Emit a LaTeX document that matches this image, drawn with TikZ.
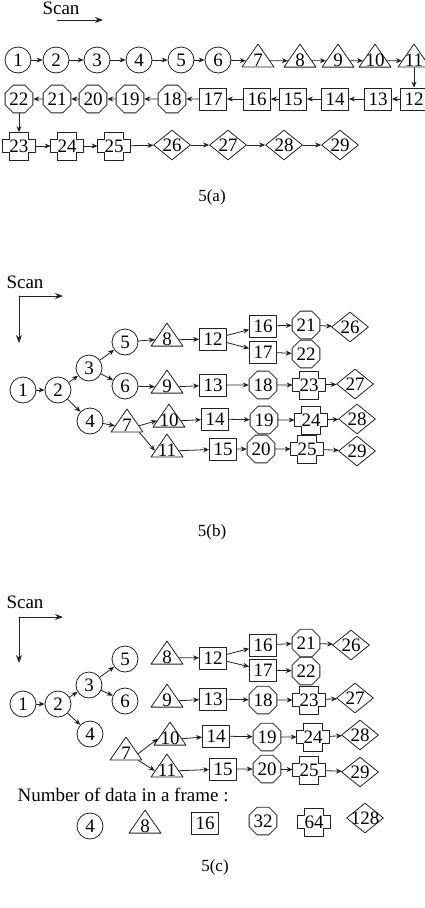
\documentclass[tikz,border=0pt]{standalone}
\usepackage{fontspec}
\setmainfont{Liberation Serif}
\usetikzlibrary{arrows.meta,shapes.geometric}
\newcommand{\datano}[1]{\makebox[0pt]{#1}}
\newcommand{\tridata}[1]{\makebox[0pt]{\raisebox{-3pt}[\height][\depth]{#1}}}
\makeatletter
\pgfdeclareshape{plusbox}{%
  \inheritsavedanchors[from=rectangle]%
  \inheritanchorborder[from=rectangle]%
  \inheritanchor[from=rectangle]{center}%
  \inheritanchor[from=rectangle]{north}%
  \inheritanchor[from=rectangle]{south}%
  \inheritanchor[from=rectangle]{east}%
  \inheritanchor[from=rectangle]{west}%
  \backgroundpath{%
    \southwest\edef\pbl{\the\pgf@x}\edef\pbb{\the\pgf@y}%
    \northeast\edef\pbr{\the\pgf@x}\edef\pbt{\the\pgf@y}%
    \pgfmathsetmacro\pbdx{0.22*(\pbr-\pbl)}%
    \pgfmathsetmacro\pbdy{0.27*(\pbt-\pbb)}%
    \pgfpathmoveto{\pgfpoint{\pbl+\pbdx pt}{\pbb}}%
    \pgfpathlineto{\pgfpoint{\pbr-\pbdx pt}{\pbb}}%
    \pgfpathlineto{\pgfpoint{\pbr-\pbdx pt}{\pbb+\pbdy pt}}%
    \pgfpathlineto{\pgfpoint{\pbr}{\pbb+\pbdy pt}}%
    \pgfpathlineto{\pgfpoint{\pbr}{\pbt-\pbdy pt}}%
    \pgfpathlineto{\pgfpoint{\pbr-\pbdx pt}{\pbt-\pbdy pt}}%
    \pgfpathlineto{\pgfpoint{\pbr-\pbdx pt}{\pbt}}%
    \pgfpathlineto{\pgfpoint{\pbl+\pbdx pt}{\pbt}}%
    \pgfpathlineto{\pgfpoint{\pbl+\pbdx pt}{\pbt-\pbdy pt}}%
    \pgfpathlineto{\pgfpoint{\pbl}{\pbt-\pbdy pt}}%
    \pgfpathlineto{\pgfpoint{\pbl}{\pbb+\pbdy pt}}%
    \pgfpathlineto{\pgfpoint{\pbl+\pbdx pt}{\pbb+\pbdy pt}}%
    \pgfpathclose
  }%
}
\makeatother
\definecolor{scanInk}{HTML}{222222}

\begin{document}
\begin{tikzpicture}[x=1pt,y=-1pt,line cap=round,line join=round]
\useasboundingbox[fill=white] (0,0) rectangle (425,908);
\tikzset{shp/.style={draw=scanInk,line width=0.8pt,inner sep=0pt,font=\fontsize{19}{22}\selectfont},
 cir/.style={shp,circle,minimum size=26pt},
 tri/.style={shp,isosceles triangle,isosceles triangle stretches,shape border rotate=90,minimum width=32pt,minimum height=23pt},
 sq/.style={shp,rectangle,minimum width=27pt,minimum height=22pt},
 oct/.style={shp,regular polygon,regular polygon sides=8,minimum size=30pt},
 crs/.style={shp,plusbox,minimum width=32pt,minimum height=27pt},
 dia/.style={shp,diamond,minimum width=37pt,minimum height=30pt},
 link/.style={draw=scanInk,line width=0.8pt,-{Stealth[length=6pt,width=5pt]}},
 scanarrow/.style={draw=scanInk,line width=0.8pt,-{Stealth[length=8pt,width=6pt]}},
 txt/.style={font=\fontsize{19}{22}\selectfont},
 captext/.style={font=\fontsize{17}{20}\selectfont}}
% 5(a)
\node[txt] (scanA) at (61,8.5) {Scan}; \coordinate (sa1) at (57,20); \coordinate (sa2) at (103,20); \draw[scanarrow] (sa1) -- (sa2);
\node[cir] (a1) at (18,60) {\datano{1}}; \node[cir] (a2) at (56,60) {\datano{2}}; \node[cir] (a3) at (97,60) {\datano{3}}; \node[cir] (a4) at (139,60) {\datano{4}}; \node[cir] (a5) at (181,60) {\datano{5}}; \node[cir] (a6) at (218,60) {\datano{6}};
\node[tri] (a7) at (258,57) {\tridata{7}}; \node[tri] (a8) at (300,57) {\tridata{8}}; \node[tri] (a9) at (338,57) {\tridata{9}}; \node[tri] (a10) at (375,57) {\tridata{10}}; \node[tri] (a11) at (414,57) {\tridata{11}};
\node[sq] (a12) at (414,99) {\datano{12}}; \node[sq] (a13) at (378,99) {\datano{13}}; \node[sq] (a14) at (335,99) {\datano{14}}; \node[sq] (a15) at (293,99) {\datano{15}}; \node[sq] (a16) at (257,99) {\datano{16}}; \node[sq] (a17) at (213,99) {\datano{17}};
\node[oct] (a18) at (172,99) {\datano{18}}; \node[oct] (a19) at (130,99) {\datano{19}}; \node[oct] (a20) at (93,99) {\datano{20}}; \node[oct] (a21) at (57,99) {\datano{21}}; \node[oct] (a22) at (19,99) {\datano{22}};
\node[crs] (a23) at (19,146) {\datano{23}}; \node[crs] (a24) at (67,146) {\datano{24}}; \node[crs] (a25) at (114,146) {\datano{25}};
\node[dia] (a26) at (172,145) {\datano{26}}; \node[dia] (a27) at (228,145) {\datano{27}}; \node[dia] (a28) at (284,145) {\datano{28}}; \node[dia] (a29) at (340,145) {\datano{29}};
\draw[link] (a1) -- (a2); \draw[link] (a2) -- (a3); \draw[link] (a3) -- (a4); \draw[link] (a4) -- (a5); \draw[link] (a5) -- (a6); \draw[link] (a6) -- (a7.197); \draw[link] (a7.343) -- (a8.197); \draw[link] (a8.343) -- (a9.197); \draw[link] (a9.343) -- (a10.197); \draw[link] (a10.343) -- (a11.197);
\draw[link] (a11.270) -- (a12); \draw[link] (a12) -- (a13); \draw[link] (a13) -- (a14); \draw[link] (a14) -- (a15); \draw[link] (a15) -- (a16); \draw[link] (a16) -- (a17); \draw[link] (a17) -- (a18); \draw[link] (a18) -- (a19); \draw[link] (a19) -- (a20); \draw[link] (a20) -- (a21); \draw[link] (a21) -- (a22);
\draw[link] (a22) -- (a23); \draw[link] (a23) -- (a24); \draw[link] (a24) -- (a25); \draw[link] (a25) -- (a26); \draw[link] (a26) -- (a27); \draw[link] (a27) -- (a28); \draw[link] (a28) -- (a29);
\node[captext] (capA) at (212,197) {5(a)};
% 5(b)
\node[txt] (scanB) at (25,282) {Scan}; \coordinate (sb0) at (19,296); \coordinate (sb1) at (63,296); \coordinate (sb2) at (19,343); \draw[scanarrow] (sb0) -- (sb1); \draw[scanarrow] (sb0) -- (sb2);
\node[cir] (b1) at (23,390) {\datano{1}}; \node[cir] (b2) at (58,390) {\datano{2}}; \node[cir] (b3) at (89,368) {\datano{3}}; \node[cir] (b4) at (90,421) {\datano{4}}; \node[cir] (b5) at (125,342) {\datano{5}}; \node[cir] (b6) at (125,386) {\datano{6}};
\node[tri] (b7) at (127,422) {\tridata{7}}; \node[tri] (b8) at (167,336) {\tridata{8}}; \node[tri] (b9) at (167,383) {\tridata{9}}; \node[tri] (b10) at (169,417) {\tridata{10}}; \node[tri] (b11) at (167,447) {\tridata{11}};
\node[sq] (b12) at (213,339) {\datano{12}}; \node[sq] (b13) at (213,385) {\datano{13}}; \node[sq] (b14) at (215,419) {\datano{14}}; \node[sq] (b15) at (223,449) {\datano{15}}; \node[sq] (b16) at (263,326) {\datano{16}}; \node[sq] (b17) at (263,352) {\datano{17}};
\node[oct] (b18) at (263,385) {\datano{18}}; \node[oct] (b19) at (264,420) {\datano{19}}; \node[oct] (b20) at (261,449) {\datano{20}}; \node[oct] (b21) at (306,325) {\datano{21}}; \node[oct] (b22) at (306,354) {\datano{22}};
\node[crs] (b23) at (309,385) {\datano{23}}; \node[crs] (b24) at (311,420) {\datano{24}}; \node[crs] (b25) at (307,449) {\datano{25}};
\node[dia] (b26) at (350,327) {\datano{26}}; \node[dia] (b27) at (355,384) {\datano{27}}; \node[dia] (b28) at (357,419) {\datano{28}}; \node[dia] (b29) at (357,451) {\datano{29}};
\draw[link] (b1) -- (b2); \draw[link] (b2) -- (b3); \draw[link] (b2) -- (b4); \draw[link] (b3) -- (b5); \draw[link] (b3) -- (b6); \draw[link] (b4) -- (b7.197); \draw[link] (b5) -- (b8.197); \draw[link] (b6) -- (b9.197); \draw[link] (b7.343) -- (b10.197); \draw[link] (b7.320) -- (b11.197);
\draw[link] (b8.343) -- (b12); \draw[link] (b9.343) -- (b13); \draw[link] (b10.343) -- (b14); \draw[link] (b11.343) -- (b15); \draw[link] (b12) -- (b16); \draw[link] (b12) -- (b17); \draw[link] (b16) -- (b21); \draw[link] (b17) -- (b22); \draw[link] (b21) -- (b26);
\draw[link] (b13) -- (b18); \draw[link] (b18) -- (b23); \draw[link] (b23) -- (b27); \draw[link] (b14) -- (b19); \draw[link] (b19) -- (b24); \draw[link] (b24) -- (b28); \draw[link] (b15) -- (b20); \draw[link] (b20) -- (b25); \draw[link] (b25) -- (b29);
\node[captext] (capB) at (212,532) {5(b)};
% 5(c)
\node[txt] (scanC) at (25,602) {Scan}; \coordinate (sc0) at (19,617); \coordinate (sc1) at (63,617); \coordinate (sc2) at (19,663); \draw[scanarrow] (sc0) -- (sc1); \draw[scanarrow] (sc0) -- (sc2);
\node[cir] (c1) at (23,704) {\datano{1}}; \node[cir] (c2) at (58,704) {\datano{2}}; \node[cir] (c3) at (89,685) {\datano{3}}; \node[cir] (c4) at (90,734) {\datano{4}}; \node[cir] (c5) at (125,659) {\datano{5}}; \node[cir] (c6) at (125,701) {\datano{6}};
\node[tri] (c7) at (126,750) {\tridata{7}}; \node[tri] (c8) at (167,654) {\tridata{8}}; \node[tri] (c9) at (167,697) {\tridata{9}}; \node[tri] (c10) at (170,735) {\tridata{10}}; \node[tri] (c11) at (167,767) {\tridata{11}};
\node[sq] (c12) at (213,658) {\datano{12}}; \node[sq] (c13) at (213,699) {\datano{13}}; \node[sq] (c14) at (216,736) {\datano{14}}; \node[sq] (c15) at (223,769) {\datano{15}}; \node[sq] (c16) at (263,645) {\datano{16}}; \node[sq] (c17) at (263,670) {\datano{17}};
\node[oct] (c18) at (263,700) {\datano{18}}; \node[oct] (c19) at (267,737) {\datano{19}}; \node[oct] (c20) at (267,769) {\datano{20}}; \node[oct] (c21) at (306,643) {\datano{21}}; \node[oct] (c22) at (306,671) {\datano{22}};
\node[crs] (c23) at (309,700) {\datano{23}}; \node[crs] (c24) at (313,737) {\datano{24}}; \node[crs] (c25) at (309,770) {\datano{25}};
\node[dia] (c26) at (351,645) {\datano{26}}; \node[dia] (c27) at (355,698) {\datano{27}}; \node[dia] (c28) at (360,735) {\datano{28}}; \node[dia] (c29) at (360,772) {\datano{29}};
\draw[link] (c1) -- (c2); \draw[link] (c2) -- (c3); \draw[link] (c2) -- (c4); \draw[link] (c3) -- (c5); \draw[link] (c3) -- (c6); \draw[link] (c7.343) -- (c10.197); \draw[link] (c7.320) -- (c11.197);
\draw[link] (c8.343) -- (c12); \draw[link] (c9.343) -- (c13); \draw[link] (c10.343) -- (c14); \draw[link] (c11.343) -- (c15); \draw[link] (c12) -- (c16); \draw[link] (c12) -- (c17); \draw[link] (c16) -- (c21); \draw[link] (c17) -- (c22); \draw[link] (c21) -- (c26);
\draw[link] (c13) -- (c18); \draw[link] (c18) -- (c23); \draw[link] (c23) -- (c27); \draw[link] (c14) -- (c19); \draw[link] (c19) -- (c24); \draw[link] (c24) -- (c28); \draw[link] (c15) -- (c20); \draw[link] (c20) -- (c25); \draw[link] (c25) -- (c29);
\node[txt,anchor=west] (legend) at (14,795) {Number of data in a frame :};
\node[cir] (l4) at (90,826) {\datano{4}}; \node[tri] (l8) at (145,823) {\tridata{8}}; \node[sq] (l16) at (205,823) {\datano{16}}; \node[oct] (l32) at (263,821) {\datano{32}}; \node[crs] (l64) at (314,822) {\datano{64}}; \node[dia] (l128) at (365,818) {\datano{128}};
\node[captext] (capC) at (215,867) {5(c)};
\end{tikzpicture}
\end{document}
